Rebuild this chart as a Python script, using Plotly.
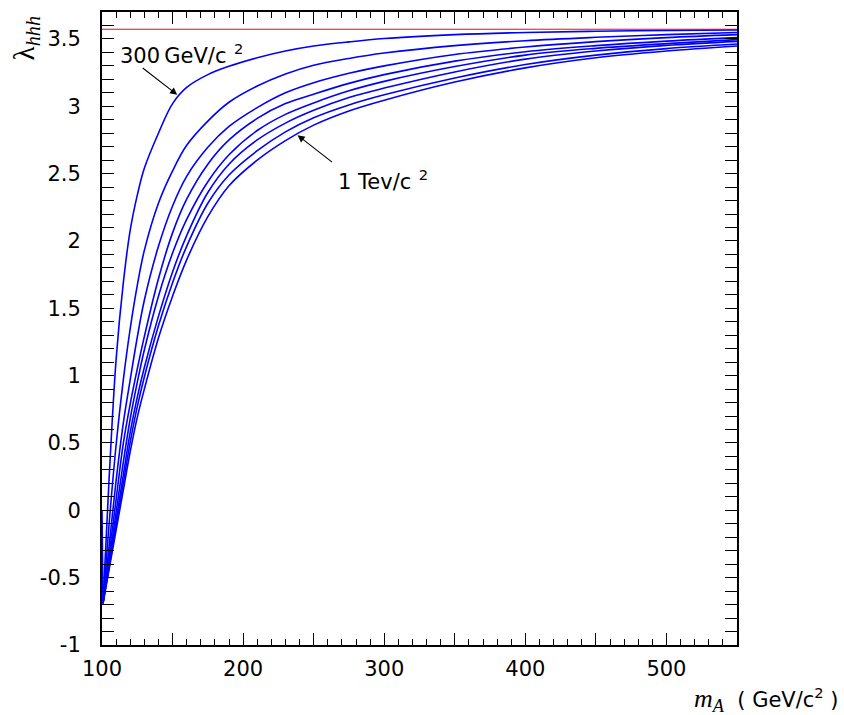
import plotly.graph_objects as go

# m_A grid (GeV/c^2) on which the trilinear coupling is tabulated
MA = [100.7, 105, 110, 115, 120, 125, 130, 140, 150, 160, 175, 190, 210, 230, 250,
      275, 300, 350, 400, 450, 500, 550]

# lambda_hhh for each SUSY mass scale
SUSY_LABELS = ["300 GeV", "400 GeV", "500 GeV", "600 GeV", "700 GeV", "800 GeV", "900 GeV", "1 TeV"]
LAMBDA_300 = [-0.69, 0.23, 1.12, 1.68, 2.08, 2.34, 2.54, 2.80, 3.02, 3.14, 3.235, 3.297, 3.36,
              3.41, 3.447, 3.478, 3.503, 3.532, 3.548, 3.557, 3.563, 3.567]
LAMBDA_400 = [-0.69, -0.105, 0.485, 0.96, 1.35, 1.67, 1.93, 2.28, 2.52, 2.71, 2.89, 3.03, 3.15,
              3.24, 3.305, 3.355, 3.395, 3.45, 3.487, 3.512, 3.532, 3.548]
LAMBDA_500 = [-0.69, -0.27, 0.22, 0.64, 0.97, 1.285, 1.56, 1.96, 2.26, 2.48, 2.695, 2.85, 2.99,
              3.10, 3.175, 3.245, 3.30, 3.385, 3.44, 3.48, 3.51, 3.532]
LAMBDA_600 = [-0.69, -0.335, 0.08, 0.49, 0.79, 1.05, 1.29, 1.72, 2.06, 2.31, 2.57, 2.75, 2.91,
              3.02, 3.09, 3.17, 3.235, 3.335, 3.405, 3.45, 3.484, 3.51]
LAMBDA_700 = [-0.69, -0.378, -0.015, 0.35, 0.68, 0.95, 1.19, 1.59, 1.91, 2.16, 2.44, 2.64, 2.82,
              2.94, 3.025, 3.115, 3.185, 3.295, 3.38, 3.43, 3.465, 3.495]
LAMBDA_800 = [-0.69, -0.406, -0.075, 0.255, 0.58, 0.84, 1.06, 1.44, 1.77, 2.04, 2.36, 2.57, 2.75,
              2.875, 2.97, 3.065, 3.135, 3.255, 3.35, 3.41, 3.452, 3.482]
LAMBDA_900 = [-0.69, -0.423, -0.114, 0.196, 0.506, 0.77, 0.99, 1.37, 1.69, 1.96, 2.28, 2.49, 2.67,
              2.81, 2.915, 3.01, 3.085, 3.21, 3.31, 3.38, 3.428, 3.462]
LAMBDA_1000 = [-0.69, -0.44, -0.147, 0.144, 0.436, 0.69, 0.90, 1.28, 1.59, 1.86, 2.18, 2.41, 2.60,
               2.745, 2.86, 2.965, 3.045, 3.18, 3.285, 3.36, 3.41, 3.448]
CURVES = [LAMBDA_300, LAMBDA_400, LAMBDA_500, LAMBDA_600,
          LAMBDA_700, LAMBDA_800, LAMBDA_900, LAMBDA_1000]

# steep drop at the lower m_A boundary
EDGE_MA = [100.0, 100.7]
EDGE_LAMBDA = [0.0, -0.69]

# asymptotic (decoupling) value
MA_RANGE = [100, 550]
LAMBDA_SM = 3.572

X_LABELED_TICKS = [100, 200, 300, 400, 500]
X_HALF_TICKS = [150, 250, 350, 450, 550]
Y_TICKS = [-1, -0.5, 0, 0.5, 1, 1.5, 2, 2.5, 3, 3.5]
Y_TICK_TEXT = ["-1", "-0.5", "0", "0.5", "1", "1.5", "2", "2.5", "3", "3.5"]

SANS = "DejaVu Sans"
SERIF = "Liberation Serif"
LABEL_SIZE = 21

fig = go.Figure()

# horizontal reference line, attached to the secondary x axis so that axis gets drawn
fig.add_trace(go.Scatter(
    x=MA_RANGE, y=[LAMBDA_SM, LAMBDA_SM], mode="lines", xaxis="x2", yaxis="y",
    line=dict(color="#ff0000", width=1), name="SM", showlegend=False))

for label, vals in zip(SUSY_LABELS, CURVES):
    fig.add_trace(go.Scatter(
        x=MA, y=vals, mode="lines",
        line=dict(color="#0000ff", width=1.6, shape="spline", smoothing=1.0),
        name=label, showlegend=False))

fig.add_trace(go.Scatter(
    x=EDGE_MA, y=EDGE_LAMBDA, mode="lines",
    line=dict(color="#0000ff", width=1.6), showlegend=False))

frame = dict(showline=True, linecolor="black", linewidth=2, mirror="allticks",
             ticks="inside", tickcolor="black", tickwidth=1.3, ticklen=12,
             showgrid=False, zeroline=False)
tickfont = dict(family=SANS, size=LABEL_SIZE, color="black")

fig.update_layout(
    xaxis=dict(range=MA_RANGE, tickmode="array", tickvals=X_LABELED_TICKS,
               tickfont=tickfont, ticklabelstandoff=4,
               minor=dict(ticks="inside", dtick=10, tick0=100, ticklen=6,
                          tickwidth=1.1, tickcolor="black"),
               **frame),
    xaxis2=dict(range=MA_RANGE, overlaying="x", anchor="y", side="bottom",
                tickmode="array", tickvals=X_HALF_TICKS, showticklabels=False,
                **frame),
    yaxis=dict(range=[-1, 3.7], tickmode="array", tickvals=Y_TICKS, ticktext=Y_TICK_TEXT,
               tickfont=tickfont, ticklabelstandoff=15,
               minor=dict(ticks="inside", dtick=0.1, tick0=-1, ticklen=6,
                          tickwidth=1.1, tickcolor="black"),
               **frame),
)

annotations = [
    # y-axis title, rotated, at the top end of the axis
    dict(xref="paper", yref="paper", x=-0.12, y=0.958, xanchor="center", yanchor="middle",
         textangle=-90, showarrow=False,
         text="λ<sub><i>hhh</i></sub>",
         font=dict(family=SERIF, size=29, color="black")),
    # x-axis title, at the right end of the axis
    dict(xref="paper", yref="paper", x=1.163, y=-0.087, xanchor="right", yanchor="middle",
         showarrow=False,
         text=("<span style='font-family:Liberation Serif;font-size:26px'><i>m</i>"
               "<sub><i>A</i></sub></span>\u00a0\u00a0( GeV/c<sup>2</sup> )"),
         font=dict(family=SANS, size=LABEL_SIZE, color="black")),
    # curve labels with their arrows
    dict(x=153.3, y=3.085, xref="x", yref="y", ax=-36, ay=-28,
         showarrow=True, arrowhead=2, arrowsize=1.3, arrowwidth=1.1, arrowcolor="black",
         text="", standoff=0),
    dict(xref="x", yref="y", x=111.0, y=3.385, xanchor="left", yanchor="middle", showarrow=False,
         text="300\u2009GeV/c<sup>\u2009 2</sup>", font=dict(family=SANS, size=LABEL_SIZE, color="black")),
    dict(x=238.6, y=2.785, xref="x", yref="y", ax=36, ay=28,
         showarrow=True, arrowhead=2, arrowsize=1.3, arrowwidth=1.1, arrowcolor="black",
         text="", standoff=0),
    dict(xref="x", yref="y", x=265.5, y=2.45, xanchor="left", yanchor="middle", showarrow=False,
         text="1 Tev/c<sup>\u2009 2</sup>", font=dict(family=SANS, size=LABEL_SIZE, color="black")),
]

fig.update_layout(
    width=844, height=715,
    margin=dict(l=102, r=107, t=10, b=70),
    paper_bgcolor="white", plot_bgcolor="white",
    annotations=annotations,
)

fig.write_html("out.html")
